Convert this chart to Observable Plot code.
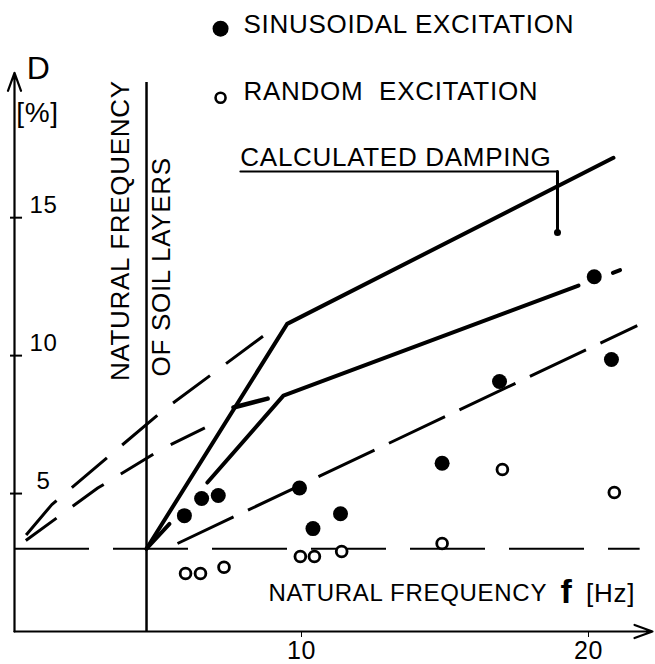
<!DOCTYPE html>
<html>
<head>
<meta charset="utf-8">
<script src="https://cdn.jsdelivr.net/npm/d3@7"></script>
<script src="https://cdn.jsdelivr.net/npm/@observablehq/plot@0.6"></script>
<style>
  body { margin: 0; background: #fff; }
</style>
</head>
<body>
<div id="chart"></div>
<script>
// ---- axis ticks ----
const xTicks = [10, 20];
const yTicks = [5, 10, 15];

// ---- reference levels ----
const soilFrequency = 4.6;   // natural frequency of soil layers [Hz]
const baseDamping = 3;       // horizontal dashed level [%]

// ---- measured damping, sinusoidal excitation (filled) ----
const sinusoidalF = [5.92, 6.52, 7.1, 9.93, 10.4, 11.36, 14.9, 16.9, 20.2, 20.8];
const sinusoidalD = [4.2, 4.82, 4.93, 5.2, 3.73, 4.27, 6.1, 9.06, 12.86, 9.86];

// ---- measured damping, random excitation (open) ----
const randomF = [5.96, 6.48, 7.3, 9.96, 10.45, 11.4, 14.9, 17.0, 20.9];
const randomD = [2.1, 2.1, 2.33, 2.72, 2.72, 2.9, 3.19, 5.87, 5.04];

// ---- calculated damping, upper solid curve ----
const calcUpperF = [4.6, 9.5, 20.87];
const calcUpperD = [3, 11.15, 17.17];

// ---- calculated damping, lower solid curve (drawn in pieces) ----
const calcLowerF = [4.6, 5.4, 6.72, 9.37, 19.65, 20.85, 21.1];
const calcLowerD = [3, 3.9, 5.4, 8.55, 12.54, 13.0, 13.1];
const calcLowerPiece = [0, 0, 1, 1, 1, 2, 2];

// ---- dashed lines ----
const upperDashF = [0, 1.3, 5.16, 8.68];
const upperDashD = [3, 4.6, 8.0, 10.72];
const lowerDashF = [0, 2.9, 5.16, 7.0];
const lowerDashD = [3, 5.2, 6.63, 7.57];
const lowerStubF = [7.63, 8.82];
const lowerStubD = [8.12, 8.44];
const rightDashF = [5.68, 21.7];
const rightDashD = [3.19, 11.09];

// ---- axis extents ----
const fMax = 22.3;
const dMax = 22.8;
const fArrow = 22.23;
const dArrow = 20.25;

// ---- build tables ----
const zip = (fs, ds) => fs.map((f, i) => ({f, D: ds[i]}));
const sinusoidal = zip(sinusoidalF, sinusoidalD);
const random = zip(randomF, randomD);
const calcUpper = zip(calcUpperF, calcUpperD);
const calcLower = calcLowerF.map((f, i) => ({f, D: calcLowerD[i], piece: calcLowerPiece[i]}));
const upperDash = zip(upperDashF, upperDashD);
const lowerDash = zip(lowerDashF, lowerDashD);
const lowerStub = zip(lowerStubF, lowerStubD);
const rightDash = zip(rightDashF, rightDashD);

const axes = [
  {x1: 0, y1: 0, x2: fArrow, y2: 0},
  {x1: 0, y1: 0, x2: 0, y2: dArrow}
];

const one = [0];

const chart = Plot.plot({
  width: 655,
  height: 664,
  marginLeft: 14,
  marginRight: 1,
  marginTop: 2,
  marginBottom: 33,
  x: {domain: [0, fMax], ticks: xTicks, tickSize: 6, tickPadding: 4, label: null, tickFormat: d => String(d)},
  y: {domain: [0, dMax], axis: null},
  style: {
    fontFamily: "'Liberation Sans', Arial, sans-serif",
    fontSize: "25px",
    letterSpacing: "0.7px",
    background: "white",
    color: "black",
    overflow: "visible"
  },
  marks: [
    // axes with arrows
    Plot.arrow(axes, {x1: "x1", y1: "y1", x2: "x2", y2: "y2", stroke: "black", strokeWidth: 2.2, headLength: 13, headAngle: 40}),
    // y ticks
    Plot.ruleY(yTicks, {x1: -0.14, x2: 0.28, stroke: "black", strokeWidth: 2}),
    Plot.text(yTicks, {x: 0, y: d => d, dx: 29, dy: -12, text: d => String(d), fontSize: 24, textAnchor: "middle"}),

    // natural frequency of soil layers
    Plot.ruleX([soilFrequency], {y1: 0, y2: 19.9, stroke: "black", strokeWidth: 2.5}),
    Plot.text(one, {x: 3.69, y: 14.53, text: () => "NATURAL FREQUENCY", rotate: -90, fontSize: 26, textAnchor: "middle"}),
    Plot.text(one, {x: 5.12, y: 13.22, text: () => "OF SOIL LAYERS", rotate: -90, fontSize: 26, textAnchor: "middle"}),

    // horizontal dashed level
    Plot.ruleY([baseDamping], {x1: 0, x2: 21.8, stroke: "black", strokeWidth: 2, strokeDasharray: "75,24"}),

    // dashed lines
    Plot.line(upperDash, {x: "f", y: "D", stroke: "black", strokeWidth: 3, strokeLinecap: "butt", strokeDasharray: "46,20", strokeDashoffset: 48}),
    Plot.line(lowerDash, {x: "f", y: "D", stroke: "black", strokeWidth: 3, strokeLinecap: "butt", strokeDasharray: "38,20", strokeDashoffset: 44}),
    Plot.line(lowerStub, {x: "f", y: "D", stroke: "black", strokeWidth: 4.5}),
    Plot.line(rightDash, {x: "f", y: "D", stroke: "black", strokeWidth: 3, strokeLinecap: "butt", strokeDasharray: "62,16"}),

    // calculated damping curves
    Plot.line(calcUpper, {x: "f", y: "D", stroke: "black", strokeWidth: 4}),
    Plot.line(calcLower, {x: "f", y: "D", z: "piece", stroke: "black", strokeWidth: 4}),

    // measured points
    Plot.dot(sinusoidal, {x: "f", y: "D", r: 7.5, fill: "black", stroke: "none"}),
    Plot.dot(random, {x: "f", y: "D", r: 5.4, fill: "white", stroke: "black", strokeWidth: 2.8}),

    // legend
    Plot.dot(one, {x: 7.18, y: 21.85, r: 8, fill: "black"}),
    Plot.text(one, {x: 7.98, y: 22.0, text: () => "SINUSOIDAL EXCITATION", fontSize: 26, textAnchor: "start"}),
    Plot.dot(one, {x: 7.18, y: 19.35, r: 5, fill: "white", stroke: "black", strokeWidth: 2.6}),
    Plot.text(one, {x: 7.98, y: 19.57, text: () => "RANDOM  EXCITATION", fontSize: 26, textAnchor: "start"}),

    // calculated damping annotation
    Plot.text(one, {x: 7.87, y: 17.17, text: () => "CALCULATED DAMPING", fontSize: 26, textAnchor: "start"}),
    Plot.line([{f: 7.87, D: 16.67}, {f: 18.92, D: 16.67}], {x: "f", y: "D", stroke: "black", strokeWidth: 2}),
    Plot.line([{f: 18.92, D: 16.67}, {f: 18.92, D: 14.5}], {x: "f", y: "D", stroke: "black", strokeWidth: 3}),
    Plot.dot(one, {x: 18.92, y: 14.46, r: 3.5, fill: "black"}),

    // axis titles
    Plot.text(one, {x: 0.84, y: 20.4, text: () => "D", fontSize: 32, textAnchor: "middle"}),
    Plot.text(one, {x: 0.8, y: 18.8, text: () => "[%]", fontSize: 28, textAnchor: "middle"}),
    Plot.text(one, {x: 8.85, y: 1.38, text: () => "NATURAL FREQUENCY", fontSize: 24, textAnchor: "start"}),
    Plot.text(one, {x: 19.23, y: 1.42, text: () => "f", fontSize: 34, fontWeight: "bold", textAnchor: "middle"}),
    Plot.text(one, {x: 20.77, y: 1.38, text: () => "[Hz]", fontSize: 26, textAnchor: "middle"})
  ]
});

document.getElementById("chart").appendChild(chart);
</script>
</body>
</html>
